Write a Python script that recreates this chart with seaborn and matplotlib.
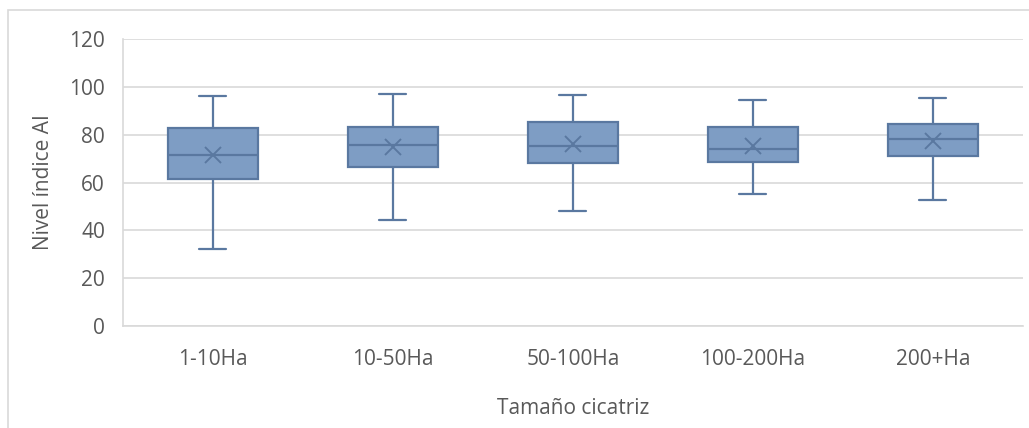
import pandas as pd
import matplotlib.pyplot as plt
import seaborn as sns
from matplotlib.patches import Rectangle

# summary values (min, q1, median, q3, max, mean)
categories = ['1-10Ha', '10-50Ha', '50-100Ha', '100-200Ha', '200+Ha']
mins = [32.1, 44.5, 48.1, 55.1, 52.6]
q1s = [61.4, 66.7, 68.0, 68.7, 71.0]
medians = [71.3, 75.6, 75.1, 74.0, 78.3]
q3s = [82.6, 83.0, 85.3, 83.2, 84.4]
maxs = [96.1, 97.0, 96.6, 94.3, 95.5]
means = [71.6, 74.7, 76.3, 75.4, 77.3]

FILL = '#7E9DC4'
EDGE = '#5A78A0'
TEXT = '#595959'

# five points per group -> quartiles come out exactly as read
rows = []
for c, a, b, m, d, e in zip(categories, mins, q1s, medians, q3s, maxs):
    for v in (a, b, m, d, e):
        rows.append({'cat': c, 'val': v})
df = pd.DataFrame(rows)
df_mean = pd.DataFrame({'cat': categories, 'val': means})

sns.set_style('white')
plt.rcParams['font.family'] = ['Open Sans', 'DejaVu Sans']

fig = plt.figure(figsize=(10.29, 4.28), dpi=100)
ax = fig.add_axes([0.1195, 0.238, 0.8745, 0.671])

sns.boxplot(data=df, x='cat', y='val', order=categories, whis=(0, 100), width=0.5,
            color=FILL, saturation=1, linewidth=1.6, linecolor=EDGE,
            showcaps=True, ax=ax,
            boxprops=dict(facecolor=FILL, edgecolor=EDGE),
            capprops=dict(color=EDGE),
            whiskerprops=dict(color=EDGE),
            medianprops=dict(color=EDGE, linewidth=1.6))
# narrow caps like the Excel ones
for ln in ax.lines:
    xs = ln.get_xdata()
    if len(xs) == 2 and xs[0] != xs[1] and abs((xs[1] - xs[0]) - 0.25) < 0.01:
        mid = (xs[0] + xs[1]) / 2
        ln.set_xdata([mid - 0.075, mid + 0.075])

sns.pointplot(data=df_mean, x='cat', y='val', order=categories, linestyle='none',
              marker='x', markersize=12, markeredgewidth=1.4, color=EDGE, ax=ax,
              errorbar=None)

ax.set_ylim(0, 120)
ax.set_yticks(range(0, 121, 20))
ax.yaxis.grid(True, color='#D9D9D9', linewidth=1.2)
ax.set_axisbelow(True)
for s in ['top', 'right']:
    ax.spines[s].set_visible(False)
ax.spines['left'].set_color('#D9D9D9')
ax.spines['bottom'].set_color('#D9D9D9')
ax.spines['left'].set_linewidth(1.2)
ax.spines['bottom'].set_linewidth(1.2)
ax.tick_params(axis='both', length=0, labelsize=15, colors=TEXT)
ax.tick_params(axis='x', pad=16.5)
ax.tick_params(axis='y', pad=13)
ax.set_xlabel('Tamaño cicatriz', fontsize=15, color=TEXT, labelpad=20)
ax.set_ylabel('Nivel índice AI', fontsize=15, color=TEXT, labelpad=11)

# outer chart border
fig.patches.append(Rectangle((0.008, -0.1), 1.1, 1.077, transform=fig.transFigure,
                             fill=False, edgecolor='#D9D9D9', linewidth=1.2))

fig.savefig('out.png', dpi=100)
